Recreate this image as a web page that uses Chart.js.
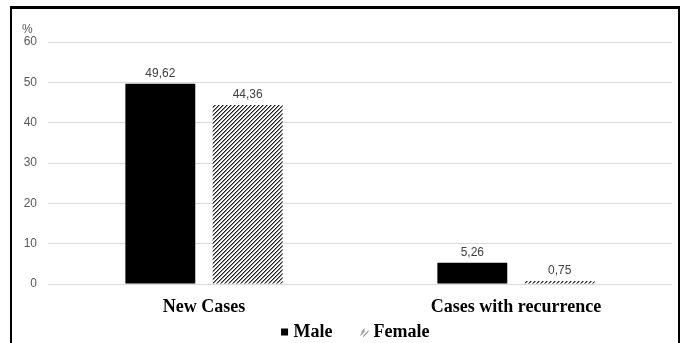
<!DOCTYPE html>
<html>
<head>
<meta charset="utf-8">
<script src="https://cdn.jsdelivr.net/npm/chart.js@4/dist/chart.umd.min.js"></script>
<style>
  html, body { margin: 0; padding: 0; background: #fff; }
  #wrap { position: relative; width: 681px; height: 343px; }
</style>
</head>
<body>
<div id="wrap"><canvas id="c" width="681" height="343"></canvas></div>
<script>
// Share of cases by sex (%)
const categories = ['New Cases', 'Cases with recurrence'];
const maleValues = [49.62, 5.26];
const femaleValues = [44.36, 0.75];
const seriesNames = ['Male', 'Female'];
const yTicks = [0, 10, 20, 30, 40, 50, 60];
const unitLabel = '%';

// Diagonal hatch used for the Female bars
function makeHatch() {
  const t = document.createElement('canvas');
  t.width = 4; t.height = 4;
  const g = t.getContext('2d');
  g.fillStyle = '#fff';
  g.fillRect(0, 0, 4, 4);
  for (let y = 0; y < 4; y++) {
    const x0 = (3 - y + 4) % 4;
    const x1 = (4 - y + 4) % 4;
    g.fillStyle = '#1e1e1e';
    g.fillRect(x0, y, 1, 1);
    g.fillStyle = '#8a8a8a';
    g.fillRect(x1, y, 1, 1);
  }
  return document.getElementById('c').getContext('2d').createPattern(t, 'repeat');
}
const hatch = makeHatch();

// Legend markers (wide canvas so the marker sits close to its text)
function maleMarker() {
  const m = document.createElement('canvas');
  m.width = 19; m.height = 9;
  const g = m.getContext('2d');
  g.fillStyle = '#000';
  g.fillRect(11, 1, 7, 7);
  return m;
}
function femaleMarker() {
  const m = document.createElement('canvas');
  m.width = 19; m.height = 9;
  const g = m.getContext('2d');
  g.strokeStyle = '#444';
  g.lineWidth = 1;
  g.beginPath();
  g.moveTo(10.5, 7.5); g.lineTo(14.5, 3.5);
  g.moveTo(13.5, 8.5); g.lineTo(18.5, 3.5);
  g.moveTo(11.5, 4.5); g.lineTo(14.5, 1.5);
  g.stroke();
  return m;
}
const markers = [maleMarker(), femaleMarker()];

const fmt = v => v.toFixed(2).replace('.', ',');

// Outer frame
const framePlugin = {
  id: 'frame',
  beforeDraw(chart) {
    const ctx = chart.ctx;
    ctx.save();
    ctx.fillStyle = '#fff';
    ctx.fillRect(0, 0, chart.width, chart.height);
    ctx.fillStyle = '#000';
    ctx.fillRect(10, 6, 670, 3);
    ctx.fillRect(10, 6, 2, chart.height);
    ctx.fillRect(678, 6, 2, chart.height);
    ctx.restore();
  }
};

// Unit label above the value axis
const unitPlugin = {
  id: 'unit',
  afterDraw(chart) {
    const ctx = chart.ctx;
    ctx.save();
    ctx.font = '12px "Liberation Sans", Arial, sans-serif';
    ctx.fillStyle = '#595959';
    ctx.textAlign = 'left';
    ctx.textBaseline = 'middle';
    ctx.fillText(unitLabel, 22, 30);
    ctx.restore();
  }
};

// Value labels above each bar
const valueLabels = {
  id: 'valueLabels',
  afterDatasetsDraw(chart) {
    const ctx = chart.ctx;
    ctx.save();
    ctx.font = '12px "Liberation Sans", Arial, sans-serif';
    ctx.fillStyle = '#404040';
    ctx.textAlign = 'center';
    ctx.textBaseline = 'bottom';
    chart.data.datasets.forEach((ds, i) => {
      chart.getDatasetMeta(i).data.forEach((bar, j) => {
        ctx.fillText(fmt(ds.data[j]), bar.x, bar.y - 4);
      });
    });
    ctx.restore();
  }
};

// The legend row overlaps the category axis area, so it takes no layout height
// and is placed under the category labels after layout.
const legendPlace = {
  id: 'legendPlace',
  beforeLayout(chart) {
    const lg = chart.legend;
    if (lg && !lg._noHeight) {
      const fit = lg.fit.bind(lg);
      lg.fit = function () { fit(); this.height = 0; };
      lg._noHeight = true;
    }
  },
  afterLayout(chart) {
    const lg = chart.legend;
    if (!lg) return;
    lg.top = 301; lg.bottom = 351;
    lg.left += 16; lg.right += 16;
  }
};

new Chart(document.getElementById('c'), {
  type: 'bar',
  data: {
    labels: categories,
    datasets: [
      { label: seriesNames[0], data: maleValues, backgroundColor: '#000', borderWidth: 0 },
      { label: seriesNames[1], data: femaleValues, backgroundColor: hatch, borderWidth: 0 }
    ]
  },
  options: {
    responsive: false,
    animation: false,
    devicePixelRatio: 1,
    categoryPercentage: 0.56,
    barPercentage: 0.8,
    layout: { padding: { left: 0, right: 9, top: 42, bottom: 0 } },
    plugins: {
      tooltip: { enabled: false },
      legend: {
        position: 'bottom',
        labels: {
          usePointStyle: true,
          boxWidth: 10,
          padding: 22,
          color: '#000',
          font: { family: '"Liberation Serif", "Times New Roman", serif', size: 18, weight: 'bold' },
          generateLabels(chart) {
            return chart.data.datasets.map((ds, i) => ({
              text: ds.label,
              pointStyle: markers[i],
              fillStyle: '#000',
              strokeStyle: '#000',
              lineWidth: 0,
              hidden: false,
              datasetIndex: i,
              fontColor: '#000'
            }));
          }
        }
      }
    },
    scales: {
      x: {
        grid: { display: false, drawTicks: false },
        border: { display: false },
        ticks: {
          padding: 13,
          color: '#000',
          font: { family: '"Liberation Serif", "Times New Roman", serif', size: 18, weight: 'bold' }
        },
        afterFit(s) { s.height = 59; }
      },
      y: {
        min: 0,
        max: 60,
        afterBuildTicks(s) { s.ticks = yTicks.map(v => ({ value: v })); },
        grid: { color: '#d9d9d9', lineWidth: 1, drawTicks: false },
        border: { display: false },
        ticks: {
          padding: 11,
          color: '#595959',
          font: { family: '"Liberation Sans", Arial, sans-serif', size: 12 }
        },
        afterFit(s) { s.width = 48; }
      }
    }
  },
  plugins: [framePlugin, unitPlugin, valueLabels, legendPlace]
});
</script>
</body>
</html>
